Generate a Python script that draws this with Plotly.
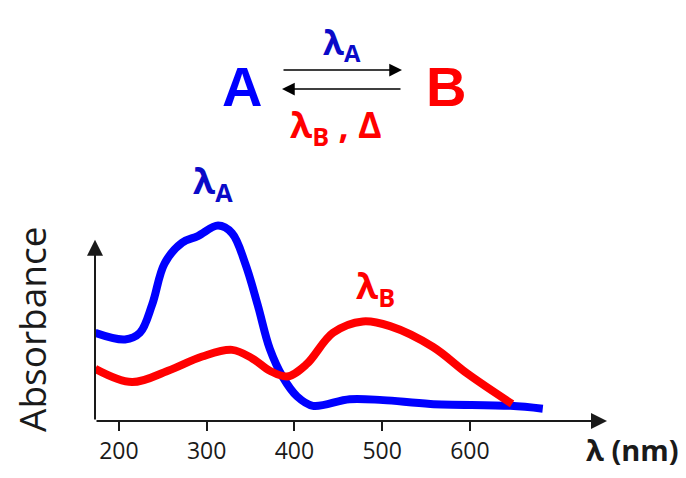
import plotly.graph_objects as go

# ---- data (absorbance in arbitrary units) ----
wl_A = [173, 207, 224, 238, 252, 272, 290, 313, 329, 344, 358, 372, 387, 403, 421, 463, 501, 555, 646, 683]
abs_A = [0.465, 0.43, 0.465, 0.615, 0.83, 0.94, 0.975, 1.03, 0.99, 0.83, 0.615, 0.38, 0.23, 0.13, 0.08, 0.115, 0.11, 0.09, 0.08, 0.065]

wl_B = [173, 215, 256, 295, 329, 352, 372, 392, 414, 444, 478, 509, 558, 597, 648]
abs_B = [0.275, 0.205, 0.265, 0.34, 0.375, 0.33, 0.265, 0.235, 0.30, 0.465, 0.525, 0.50, 0.39, 0.25, 0.09]

x_ticks = [200, 300, 400, 500, 600]
x_range = [172.8, 756.2]
y_range = [0, 1.165]
y_arrow_top = 0.955

BLUE = "#0000FF"
BLUE_TXT = "#0A0AC8"
RED = "#FF0000"
DARK = "#1A1A1A"

# the page body puts the figure 8px in from the window's top-left corner
OFF_X, OFF_Y = 8, 8
W, H = 686 - OFF_X, 478 - OFF_Y
L, R, T, B = 87, 79, 192, 45
pw, ph = W - L - R, H - T - B


def px(x):  # x in screenshot pixels -> paper
    return (x - OFF_X - L) / pw


def py(y):  # y in screenshot pixels -> paper
    return (H - B - (y - OFF_Y)) / ph


fig = go.Figure()
fig.add_trace(go.Scatter(x=wl_A, y=abs_A, mode="lines",
                         line=dict(color=BLUE, width=8, shape="spline", smoothing=1.0),
                         hoverinfo="skip", showlegend=False))
fig.add_trace(go.Scatter(x=wl_B, y=abs_B, mode="lines",
                         line=dict(color=RED, width=8, shape="spline", smoothing=1.0),
                         hoverinfo="skip", showlegend=False))

ann = []
# axes with arrowheads
ann.append(dict(x=x_range[0], y=y_arrow_top, ax=x_range[0], ay=0, xref="x", yref="y",
                axref="x", ayref="y", text="", showarrow=True, arrowhead=2,
                arrowwidth=2, arrowsize=1.6, arrowcolor=DARK))
ann.append(dict(x=x_range[1], y=0, ax=x_range[0], ay=0, xref="x", yref="y",
                axref="x", ayref="y", text="", showarrow=True, arrowhead=2,
                arrowwidth=2, arrowsize=1.6, arrowcolor=DARK))
# reaction scheme
ann.append(dict(x=px(402), y=py(63), ax=-120, ay=0, xref="paper", yref="paper",
                text="", showarrow=True, arrowhead=2, arrowwidth=1.5, arrowsize=1.7,
                arrowcolor="#000000"))
ann.append(dict(x=px(282), y=py(83), ax=120, ay=0, xref="paper", yref="paper",
                text="", showarrow=True, arrowhead=2, arrowwidth=1.5, arrowsize=1.7,
                arrowcolor="#000000"))
ann.append(dict(x=px(242), y=py(80), xref="paper", yref="paper", text="<b>A</b>",
                showarrow=False, font=dict(family="Liberation Sans", size=56, color=BLUE),
                xanchor="center", yanchor="middle"))
ann.append(dict(x=px(446), y=py(80), xref="paper", yref="paper", text="<b>B</b>",
                showarrow=False, font=dict(family="Liberation Sans", size=56, color=RED),
                xanchor="center", yanchor="middle"))
ann.append(dict(x=px(342), y=py(8), xref="paper", yref="paper", text="<b>λ<sub>A</sub></b>",
                showarrow=False, font=dict(family="Open Sans", size=34, color=BLUE_TXT),
                xanchor="center", yanchor="top", borderpad=0))
ann.append(dict(x=px(336), y=py(123), xref="paper", yref="paper", text="<b>λ<sub>B</sub> , Δ</b>",
                showarrow=False, font=dict(family="Open Sans", size=36, color=RED),
                xanchor="center", yanchor="middle"))
# curve labels
ann.append(dict(x=px(213), y=py(182), xref="paper", yref="paper", text="<b>λ<sub>A</sub></b>",
                showarrow=False, font=dict(family="Open Sans", size=36, color=BLUE_TXT),
                xanchor="center", yanchor="middle"))
ann.append(dict(x=px(375), y=py(292), xref="paper", yref="paper", text="<b>λ<sub>B</sub></b>",
                showarrow=False, font=dict(family="Open Sans", size=36, color=RED),
                xanchor="center", yanchor="middle"))
# axis titles
ann.append(dict(x=px(32), y=py(337), xref="paper", yref="paper", text="Absorbance",
                textangle=-90, showarrow=False,
                font=dict(family="Open Sans", size=37, color=DARK),
                xanchor="center", yanchor="middle"))
ann.append(dict(x=px(632), y=py(463), xref="paper", yref="paper", text="<b>λ (nm)</b>",
                showarrow=False, font=dict(family="Open Sans", size=29, color=DARK),
                xanchor="center", yanchor="middle"))

fig.update_layout(
    width=W, height=H,
    margin=dict(l=L, r=R, t=T, b=B, pad=0),
    paper_bgcolor="white", plot_bgcolor="white",
    showlegend=False,
    annotations=ann,
    xaxis=dict(range=x_range, tickvals=x_ticks, ticks="outside", ticklen=9,
               tickwidth=2, tickcolor=DARK, showgrid=False, zeroline=False,
               showline=False, tickfont=dict(family="Open Sans", size=23, color=DARK),
               fixedrange=True),
    xaxis2=dict(range=x_range, tickvals=x_ticks, ticks="inside", ticklen=6,
                tickwidth=2, tickcolor=DARK, showgrid=False, zeroline=False,
                showline=False, showticklabels=False, overlaying="x", anchor="y",
                side="bottom", fixedrange=True),
    yaxis=dict(range=y_range, showgrid=False, zeroline=False, showline=False,
               showticklabels=False, ticks="", fixedrange=True),
)

fig.write_html("out.html")
